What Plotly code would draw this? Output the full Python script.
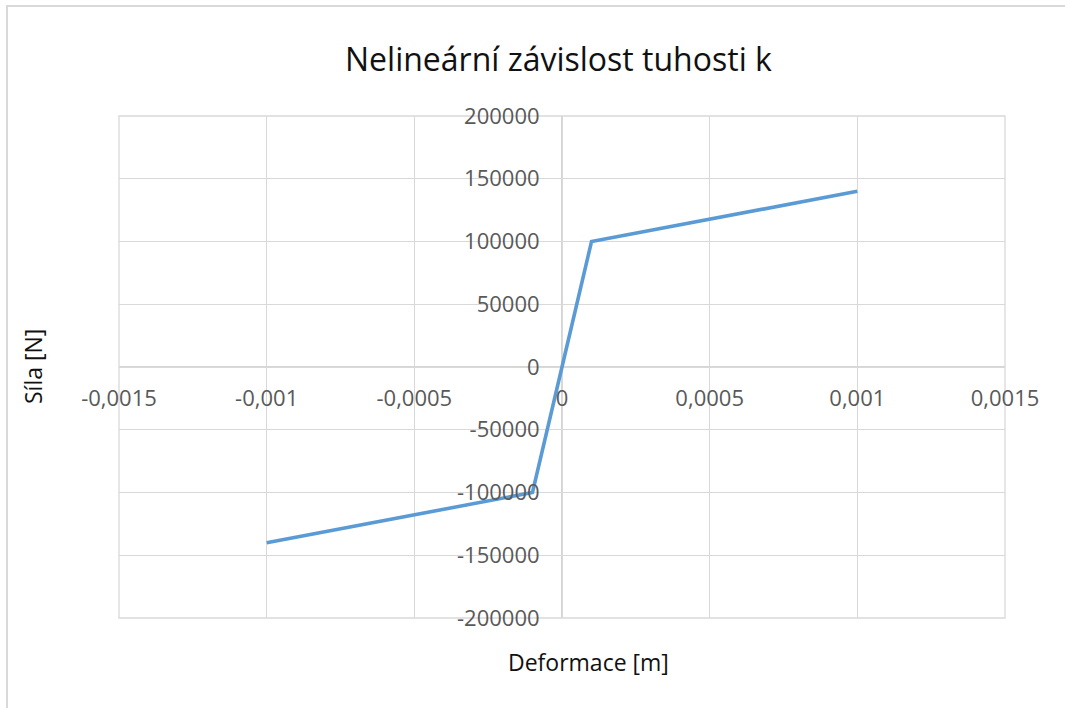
import plotly.graph_objects as go

deformace = [-0.001, -0.0001, 0.0, 0.0001, 0.001]
sila = [-140000, -100000, 0, 100000, 140000]

x_tickvals = [-0.0015, -0.001, -0.0005, 0, 0.0005, 0.001, 0.0015]
x_ticktext = ["-0,0015", "-0,001", "-0,0005", "0", "0,0005", "0,001", "0,0015"]
y_tickvals = [-200000, -150000, -100000, -50000, 0, 50000, 100000, 150000, 200000]
y_ticktext = ["-200000", "-150000", "-100000", "-50000", "0", "50000", "100000", "150000", "200000"]

W, H = 1065, 708
L, R, T, B = 119, 1005, 116, 618
pw, ph = R - L, B - T

def px(x):
    return (x - L) / pw

def py(y):
    return (B - y) / ph

FONT = "Open Sans"
grid = "#d9d9d9"

fig = go.Figure()
fig.add_trace(go.Scatter(x=deformace, y=sila, mode="lines",
                         line=dict(color="#5B9BD5", width=3.6), showlegend=False))

fig.update_layout(
    width=W, height=H,
    margin=dict(l=L, r=W - R, t=T, b=H - B),
    paper_bgcolor="white", plot_bgcolor="white",
    font=dict(family=FONT, color="#595959", size=22),
    xaxis=dict(range=[-0.0015, 0.0015], tickvals=x_tickvals, ticktext=x_ticktext,
               showgrid=True, gridcolor=grid, gridwidth=1.3, zeroline=False,
               showline=False, anchor="free", position=0.5,
               ticks="outside", ticklen=12, tickcolor="rgba(0,0,0,0)",
               tickfont=dict(family=FONT, size=22, color="#595959")),
    yaxis=dict(range=[-200000, 200000], tickvals=y_tickvals, ticktext=y_ticktext,
               showgrid=True, gridcolor=grid, gridwidth=1.3, zeroline=False,
               showline=False, anchor="free", position=0.5,
               ticks="outside", ticklen=18, tickcolor="rgba(0,0,0,0)",
               tickfont=dict(family=FONT, size=22, color="#595959")),
)

# axes through zero
fig.add_shape(type="line", xref="x", yref="paper", x0=0, x1=0, y0=0, y1=1,
              line=dict(color="#c8c8c8", width=1.5), layer="below")
fig.add_shape(type="line", xref="paper", yref="y", x0=0, x1=1, y0=0, y1=0,
              line=dict(color="#c8c8c8", width=1.5), layer="below")
# plot area border
fig.add_shape(type="rect", xref="paper", yref="paper", x0=0, x1=1, y0=0, y1=1,
              line=dict(color=grid, width=1.3), layer="below")
# outer chart frame
fig.add_shape(type="rect", xref="paper", yref="paper",
              x0=px(7), x1=px(1120), y0=py(760), y1=py(6),
              line=dict(color=grid, width=2))

fig.add_annotation(text="Nelineární závislost tuhosti k", xref="paper", yref="paper",
                   x=px(558), y=py(58), showarrow=False, xanchor="center", yanchor="middle",
                   font=dict(family=FONT, size=32, color="#111111"))
fig.add_annotation(text="Deformace [m]", xref="paper", yref="paper",
                   x=px(588), y=py(662), showarrow=False, xanchor="center", yanchor="middle",
                   font=dict(family=FONT, size=23, color="#111111"))
fig.add_annotation(text="Síla [N]", xref="paper", yref="paper",
                   x=px(33), y=py(367), showarrow=False, xanchor="center", yanchor="middle",
                   textangle=-90, font=dict(family=FONT, size=23, color="#111111"))

fig.write_html("out.html", config={"displayModeBar": False},
               post_script="document.body.style.margin='0';document.body.style.overflow='hidden';")
